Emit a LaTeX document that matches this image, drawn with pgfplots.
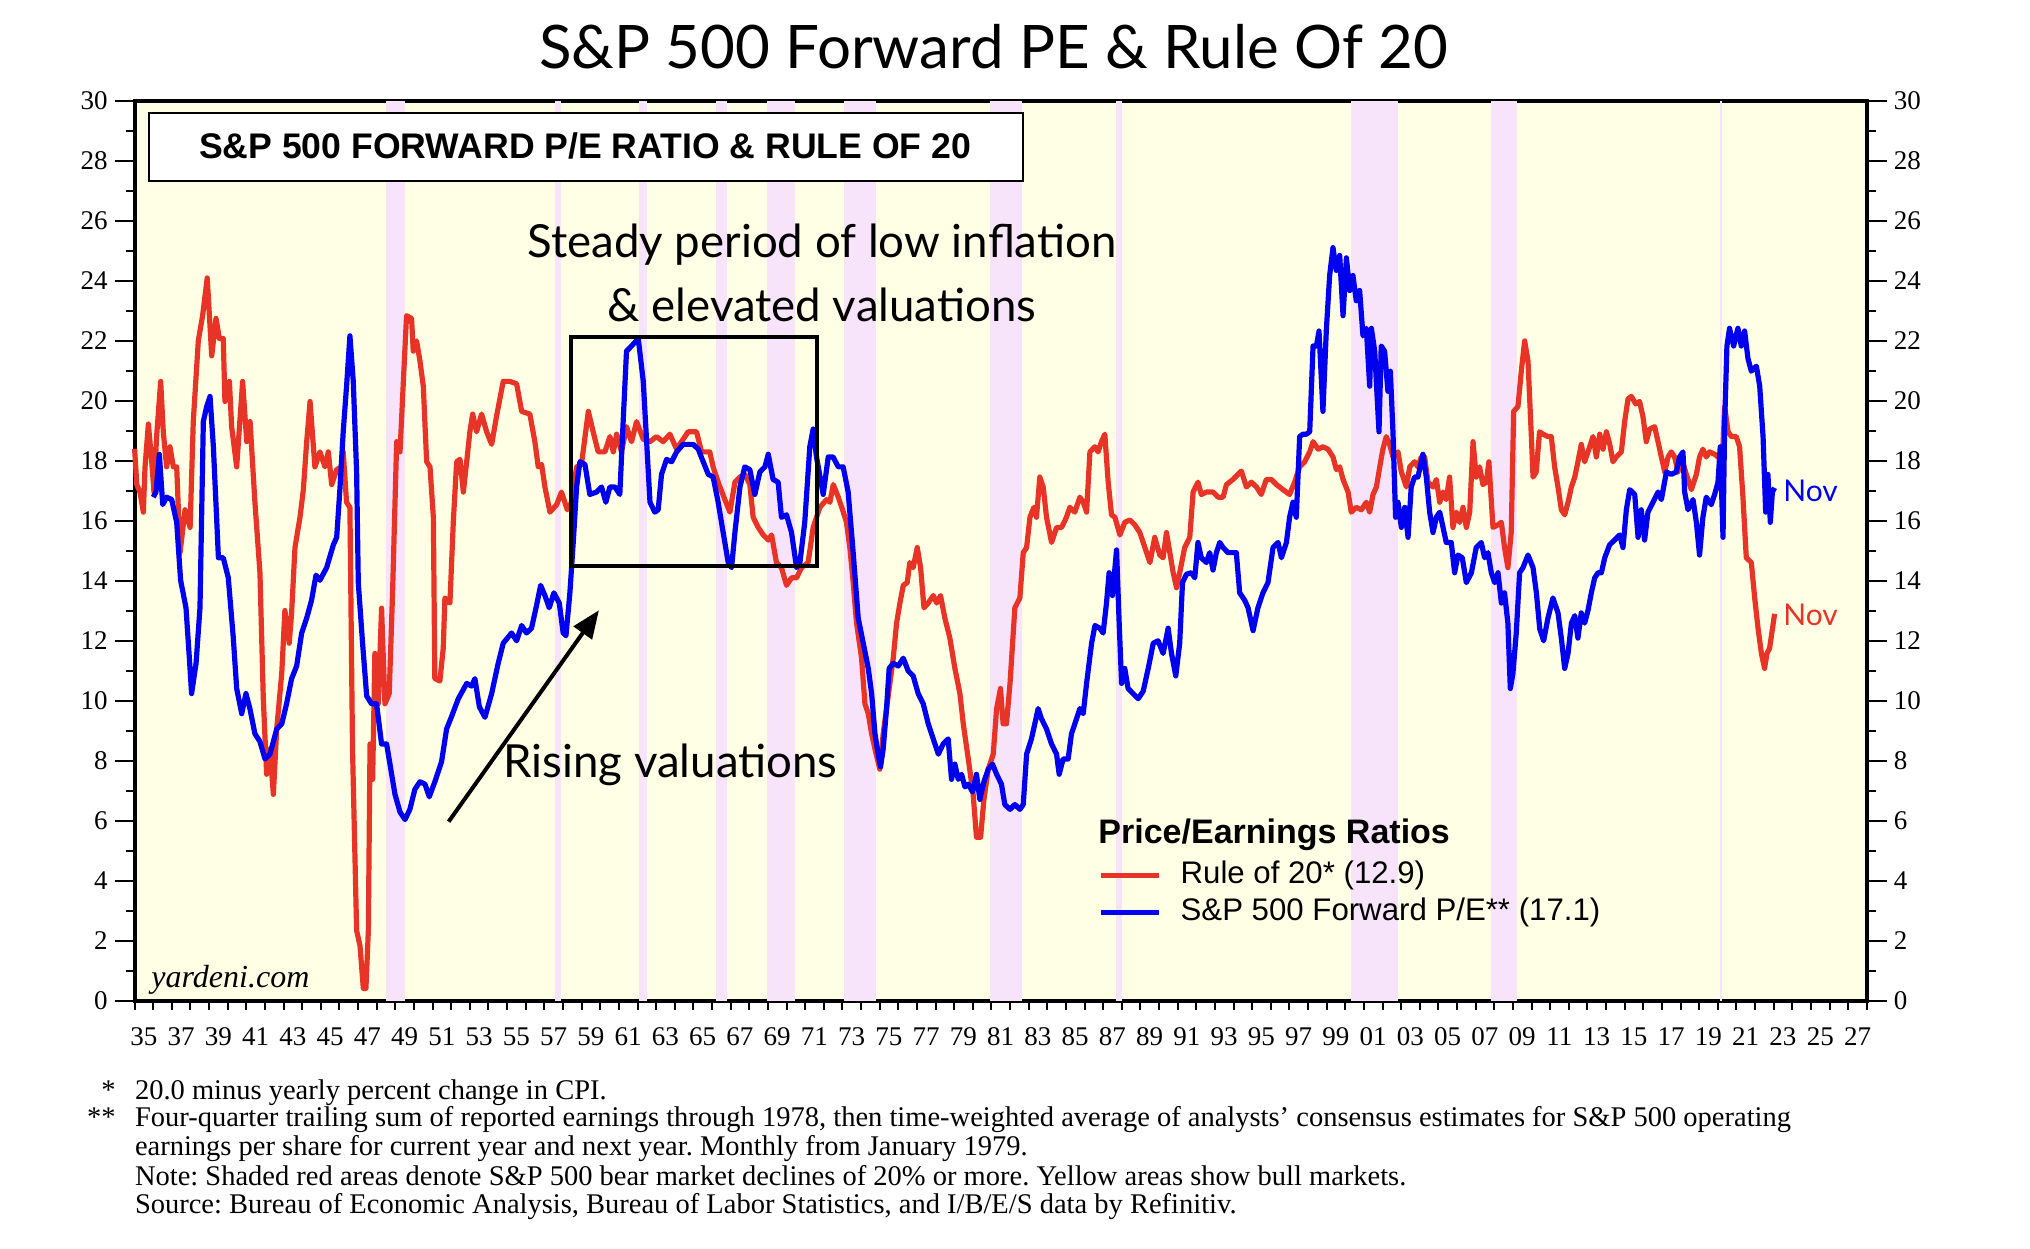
\documentclass[border=0pt]{standalone}
\usepackage{fontspec}
\setmainfont{Liberation Serif}
\newfontfamily\lato{Lato}
\newfontfamily\arial{Liberation Sans}
\usepackage{pgfplots}
\usepackage{pgfplotstable}
\pgfplotsset{compat=1.18}
\usetikzlibrary{arrows.meta}
\definecolor{ivory}{RGB}{255,255,230}
\definecolor{bearpink}{RGB}{248,228,250}
\definecolor{rred}{RGB}{232,52,38}
\definecolor{pblue}{RGB}{0,0,240}
\frenchspacing

\pgfplotstableread{
x y
1935.00 18.4
1935.12 17.2
1935.29 16.96
1935.47 16.29
1935.56 17.8
1935.74 19.23
1935.92 17.97
1936.04 16.96
1936.18 18.8
1936.40 20.65
1936.54 18.97
1936.72 17.80
1936.90 18.47
1937.08 17.80
1937.26 17.80
1937.44 14.94
1937.71 16.37
1937.98 15.78
1938.15 19.31
1938.42 22.0
1938.65 22.84
1938.90 24.1
1939.14 21.5
1939.37 22.75
1939.55 22.08
1939.76 22.08
1939.85 19.98
1940.09 20.65
1940.21 19.14
1940.48 17.8
1940.80 20.65
1941.02 18.64
1941.20 19.31
1941.46 16.62
1941.73 14.27
1941.91 10.07
1942.09 7.55
1942.27 8.39
1942.45 6.88
1942.63 9.06
1942.90 10.91
1943.07 13.01
1943.30 11.92
1943.43 12.93
1943.61 15.11
1943.88 16.12
1944.06 17.04
1944.24 18.64
1944.42 19.98
1944.68 17.8
1944.95 18.3
1945.22 17.8
1945.40 18.3
1945.58 17.21
1945.85 17.71
1946.12 17.8
1946.20 18.3
1946.38 16.62
1946.56 16.45
1946.70 8.39
1946.92 2.34
1947.10 1.84
1947.28 0.41
1947.42 0.41
1947.55 2.34
1947.64 8.56
1947.78 7.38
1947.90 11.58
1948.08 9.9
1948.26 13.09
1948.44 9.9
1948.67 10.24
1948.85 13.6
1949.07 18.64
1949.25 18.3
1949.43 20.65
1949.60 22.84
1949.87 22.75
1949.96 21.66
1950.14 22.0
1950.32 21.33
1950.50 20.49
1950.68 17.97
1950.86 17.8
1951.04 16.12
1951.12 10.74
1951.39 10.66
1951.57 11.75
1951.66 13.43
1951.93 13.26
1952.11 15.95
1952.29 17.97
1952.47 18.05
1952.65 16.96
1952.83 17.97
1953.00 18.97
1953.15 19.56
1953.36 18.97
1953.63 19.56
1953.90 18.97
1954.17 18.55
1954.43 19.48
1954.79 20.65
1955.15 20.65
1955.51 20.57
1955.78 19.65
1956.22 19.56
1956.49 18.64
1956.67 17.8
1956.85 17.88
1957.03 17.13
1957.30 16.29
1957.66 16.54
1957.92 16.96
1958.23 16.37
1958.46 16.62
1958.73 17.8
1958.99 17.88
1959.36 19.65
1959.62 18.97
1959.89 18.3
1960.25 18.3
1960.52 18.81
1960.70 18.3
1960.88 18.89
1961.14 18.3
1961.41 19.14
1961.68 18.64
1961.95 19.31
1962.31 18.72
1962.67 18.64
1963.02 18.81
1963.38 18.64
1963.74 18.89
1964.10 18.39
1964.45 18.72
1964.72 18.97
1965.17 18.97
1965.44 18.3
1965.88 18.3
1966.06 17.8
1966.33 17.29
1966.69 16.71
1966.96 16.29
1967.23 17.29
1967.50 17.46
1967.76 17.55
1968.03 17.21
1968.21 16.12
1968.48 15.78
1968.75 15.53
1969.02 15.36
1969.20 15.53
1969.46 14.61
1969.73 14.44
1970.00 13.85
1970.27 14.1
1970.54 14.1
1970.81 14.44
1971.16 14.61
1971.43 15.78
1971.79 16.45
1972.15 16.71
1972.33 16.62
1972.51 17.21
1972.78 16.79
1973.05 16.29
1973.22 15.95
1973.40 15.11
1973.58 13.94
1973.76 12.59
1974.03 11.42
1974.21 9.9
1974.39 9.57
1974.57 8.9
1974.75 8.39
1975.01 7.72
1975.19 8.9
1975.37 9.74
1975.55 10.58
1975.73 11.42
1975.91 12.59
1976.09 13.26
1976.27 13.85
1976.48 13.94
1976.62 14.61
1976.80 14.44
1977.02 15.11
1977.20 14.44
1977.38 13.1
1977.61 13.26
1977.88 13.51
1978.06 13.26
1978.27 13.51
1978.50 12.76
1978.77 12.09
1979.04 11.08
1979.31 10.24
1979.49 9.23
1979.76 8.06
1980.02 6.88
1980.20 5.45
1980.42 5.45
1980.60 6.71
1980.83 7.72
1981.10 8.22
1981.28 9.74
1981.49 10.41
1981.63 9.23
1981.81 9.23
1982.00 10.58
1982.26 13.1
1982.53 13.43
1982.71 14.94
1982.89 15.11
1983.07 16.12
1983.28 16.45
1983.42 16.12
1983.60 17.46
1983.78 17.13
1983.96 16.12
1984.23 15.28
1984.50 15.78
1984.77 15.78
1985.03 16.12
1985.21 16.45
1985.48 16.29
1985.75 16.79
1985.93 16.62
1986.11 16.29
1986.29 18.3
1986.55 18.47
1986.73 18.3
1986.91 18.64
1987.09 18.89
1987.27 17.29
1987.45 16.2
1987.63 16.12
1987.90 15.53
1988.16 15.95
1988.43 16.03
1988.70 15.87
1988.97 15.61
1989.24 15.11
1989.51 14.61
1989.77 15.45
1990.04 14.86
1990.22 14.77
1990.40 15.61
1990.58 14.94
1990.76 14.27
1990.94 13.77
1991.11 14.27
1991.38 15.11
1991.65 15.45
1991.83 16.96
1992.09 17.29
1992.27 16.88
1992.54 16.96
1992.90 16.96
1993.17 16.79
1993.44 16.79
1993.62 17.21
1993.97 17.38
1994.24 17.55
1994.42 17.66
1994.69 17.13
1994.96 17.29
1995.23 17.13
1995.49 16.88
1995.76 17.38
1996.03 17.38
1996.30 17.21
1996.66 17.04
1997.01 16.88
1997.28 17.29
1997.55 17.8
1997.82 17.97
1998.09 18.3
1998.27 18.64
1998.54 18.39
1998.80 18.47
1999.07 18.39
1999.34 18.13
1999.52 17.71
1999.70 17.8
1999.88 17.38
2000.15 16.96
2000.32 16.29
2000.59 16.45
2000.86 16.37
2001.13 16.62
2001.31 16.29
2001.49 16.88
2001.67 17.13
2001.85 17.8
2002.02 18.39
2002.20 18.81
2002.38 18.55
2002.56 18.13
2002.83 18.3
2003.01 17.63
2003.28 17.13
2003.46 17.8
2003.72 17.97
2003.90 17.8
2004.08 18.13
2004.26 18.13
2004.44 17.29
2004.71 17.13
2004.89 17.38
2005.07 16.62
2005.25 16.96
2005.42 16.71
2005.60 17.46
2005.78 15.78
2005.96 16.29
2006.14 15.95
2006.32 16.45
2006.50 15.78
2006.68 16.29
2006.86 18.64
2007.03 17.46
2007.21 17.8
2007.39 17.21
2007.57 17.29
2007.71 17.97
2007.93 15.78
2008.20 15.87
2008.38 15.95
2008.55 15.11
2008.73 14.44
2008.91 15.61
2009.04 19.65
2009.27 19.81
2009.45 20.99
2009.63 22.0
2009.81 21.33
2009.99 18.81
2010.08 17.46
2010.25 17.63
2010.43 18.97
2010.62 18.89
2010.88 18.81
2011.06 18.81
2011.24 17.8
2011.42 17.13
2011.60 16.37
2011.78 16.2
2011.96 16.62
2012.14 17.13
2012.32 17.46
2012.49 17.97
2012.67 18.55
2012.85 17.97
2013.03 18.3
2013.30 18.81
2013.48 18.13
2013.66 18.89
2013.84 18.39
2014.02 18.97
2014.20 18.55
2014.37 17.97
2014.55 18.13
2014.82 18.3
2015.00 19.31
2015.18 20.07
2015.36 20.15
2015.59 19.9
2015.80 19.98
2015.98 19.48
2016.16 18.64
2016.34 19.06
2016.61 19.14
2016.79 18.64
2016.97 18.13
2017.15 17.63
2017.33 18.13
2017.50 18.3
2017.68 18.13
2017.86 17.63
2018.04 18.13
2018.31 17.55
2018.58 17.04
2018.85 17.55
2019.02 18.13
2019.20 18.39
2019.38 18.13
2019.56 18.3
2019.83 18.22
2020.01 18.13
2020.24 17.97
2020.37 19.81
2020.55 18.97
2020.73 18.81
2020.99 18.81
2021.17 18.47
2021.35 16.79
2021.53 14.77
2021.80 14.61
2021.98 13.43
2022.16 12.42
2022.34 11.58
2022.51 11.08
2022.64 11.58
2022.78 11.75
2023.05 12.9
}\ruletwenty

\pgfplotstableread{
x y
1936.00 16.79
1936.15 16.96
1936.33 18.22
1936.51 16.54
1936.72 16.79
1936.99 16.71
1937.26 15.95
1937.47 14.02
1937.76 13.1
1937.94 11.42
1938.06 10.24
1938.30 11.25
1938.51 13.1
1938.69 19.31
1938.87 19.81
1939.05 20.15
1939.23 18.47
1939.50 14.77
1939.76 14.77
1940.03 14.1
1940.30 12.09
1940.48 10.41
1940.75 9.57
1940.98 10.24
1941.19 9.74
1941.46 8.9
1941.73 8.64
1942.00 8.06
1942.27 8.22
1942.63 9.06
1942.90 9.23
1943.16 9.9
1943.43 10.74
1943.70 11.16
1943.97 12.26
1944.24 12.76
1944.50 13.35
1944.74 14.19
1944.95 14.02
1945.31 14.44
1945.67 15.2
1945.85 15.45
1946.03 17.13
1946.20 18.97
1946.38 20.49
1946.56 22.17
1946.74 20.65
1946.92 17.63
1947.01 13.94
1947.24 11.92
1947.46 10.16
1947.72 9.9
1947.99 9.9
1948.26 8.56
1948.53 8.56
1948.71 7.89
1948.98 6.88
1949.25 6.29
1949.52 6.04
1949.78 6.38
1950.05 7.05
1950.32 7.3
1950.59 7.22
1950.82 6.8
1951.12 7.3
1951.48 7.97
1951.75 9.06
1952.02 9.48
1952.38 10.07
1952.83 10.58
1953.09 10.49
1953.27 10.74
1953.51 9.8
1953.81 9.45
1954.17 10.24
1954.52 11.25
1954.79 11.92
1955.24 12.26
1955.51 12.0
1955.78 12.51
1956.04 12.26
1956.31 12.42
1956.58 13.18
1956.80 13.85
1957.03 13.51
1957.26 13.1
1957.51 13.6
1957.80 13.26
1958.01 12.26
1958.16 12.17
1958.37 13.6
1958.55 15.28
1958.73 17.13
1958.91 17.97
1959.18 17.88
1959.44 16.88
1959.80 16.96
1960.07 17.13
1960.30 16.62
1960.52 17.13
1960.79 17.13
1961.05 16.88
1961.23 19.31
1961.41 21.66
1961.68 21.83
1962.04 22.08
1962.31 20.65
1962.49 18.64
1962.67 16.62
1962.93 16.29
1963.11 16.37
1963.29 17.55
1963.56 18.05
1963.83 17.97
1964.10 18.3
1964.45 18.55
1964.99 18.55
1965.26 18.39
1965.53 17.97
1965.80 17.55
1966.06 17.46
1966.33 16.62
1966.60 15.61
1966.87 14.61
1967.05 14.44
1967.23 15.61
1967.50 17.13
1967.76 17.8
1968.03 17.71
1968.30 16.88
1968.57 17.63
1968.84 17.8
1969.02 18.22
1969.28 17.38
1969.55 17.29
1969.73 16.12
1970.00 16.2
1970.27 15.61
1970.54 14.44
1970.72 14.61
1970.98 15.95
1971.25 18.47
1971.43 19.06
1971.61 18.13
1971.97 16.88
1972.24 18.13
1972.50 18.13
1972.78 17.8
1973.04 17.8
1973.31 16.96
1973.58 14.94
1973.85 12.76
1974.12 11.92
1974.39 11.08
1974.57 10.24
1974.75 8.9
1974.92 8.22
1975.05 7.8
1975.19 8.39
1975.37 9.74
1975.51 11.08
1975.73 11.25
1976.00 11.16
1976.27 11.42
1976.53 11.0
1976.80 10.83
1977.07 10.24
1977.34 9.9
1977.61 9.23
1977.88 8.73
1978.15 8.22
1978.41 8.56
1978.68 8.73
1978.86 7.38
1979.04 7.89
1979.22 7.38
1979.40 7.55
1979.58 7.13
1979.76 7.22
1979.99 6.96
1980.20 7.55
1980.38 6.71
1980.60 7.3
1980.83 7.72
1981.06 7.89
1981.28 7.55
1981.54 7.22
1981.72 6.54
1982.00 6.38
1982.26 6.54
1982.53 6.38
1982.71 6.54
1982.89 8.22
1983.15 8.73
1983.33 9.23
1983.51 9.74
1983.69 9.4
1983.96 9.06
1984.23 8.56
1984.50 8.22
1984.64 7.55
1984.85 8.06
1985.12 8.06
1985.30 8.9
1985.57 9.4
1985.75 9.74
1985.93 9.57
1986.11 10.58
1986.38 11.92
1986.56 12.51
1986.82 12.42
1987.00 12.26
1987.18 13.26
1987.32 14.27
1987.50 13.51
1987.72 15.03
1987.86 12.59
1987.99 10.58
1988.16 11.08
1988.34 10.41
1988.61 10.24
1988.88 10.07
1989.15 10.32
1989.42 11.08
1989.69 11.92
1989.95 12.0
1990.22 11.58
1990.49 12.42
1990.67 11.58
1990.90 10.83
1991.11 11.92
1991.26 13.94
1991.47 14.22
1991.74 14.27
1991.92 14.1
1992.09 15.28
1992.27 14.77
1992.54 14.61
1992.72 14.94
1992.90 14.36
1993.08 14.94
1993.26 15.28
1993.44 15.11
1993.70 14.94
1993.97 14.94
1994.15 14.94
1994.33 13.6
1994.60 13.35
1994.78 13.1
1995.05 12.34
1995.31 13.1
1995.58 13.6
1995.85 13.94
1996.12 15.11
1996.39 15.28
1996.57 14.77
1996.84 15.28
1997.01 16.12
1997.19 16.62
1997.37 16.12
1997.55 18.81
1997.73 18.89
1997.91 18.89
1998.09 18.97
1998.27 21.83
1998.45 21.83
1998.59 22.33
1998.80 19.65
1998.98 22.33
1999.16 24.18
1999.34 25.11
1999.52 24.35
1999.70 24.85
1999.88 22.84
2000.06 24.77
2000.24 23.68
2000.41 24.18
2000.59 23.34
2000.77 23.68
2000.95 22.17
2001.13 22.42
2001.31 20.49
2001.40 22.42
2001.58 21.66
2001.81 18.97
2001.93 21.83
2002.11 21.66
2002.29 20.32
2002.42 20.99
2002.56 18.97
2002.70 16.12
2002.83 16.62
2003.01 15.78
2003.19 16.45
2003.37 15.45
2003.54 17.13
2003.72 17.46
2003.90 17.46
2004.17 18.22
2004.35 17.46
2004.53 16.29
2004.71 15.61
2004.89 16.12
2005.07 16.29
2005.25 15.78
2005.42 15.28
2005.69 15.28
2005.87 14.27
2006.05 14.86
2006.28 14.77
2006.50 13.94
2006.77 14.27
2007.03 15.11
2007.30 15.28
2007.48 14.77
2007.66 14.94
2007.84 14.27
2008.02 13.94
2008.20 14.27
2008.38 13.26
2008.55 13.6
2008.73 12.59
2008.86 10.41
2009.00 10.91
2009.18 12.26
2009.36 14.27
2009.54 14.44
2009.81 14.86
2010.08 14.44
2010.26 13.6
2010.44 12.4
2010.65 12.0
2010.88 12.76
2011.15 13.43
2011.42 12.93
2011.60 12.09
2011.78 11.08
2011.96 11.58
2012.14 12.59
2012.32 12.84
2012.49 12.09
2012.67 12.93
2012.85 12.59
2013.03 13.01
2013.21 13.6
2013.39 14.1
2013.57 14.27
2013.75 14.27
2013.93 14.77
2014.19 15.2
2014.46 15.36
2014.73 15.53
2014.91 15.11
2015.09 16.37
2015.27 17.04
2015.54 16.88
2015.72 15.45
2015.89 16.37
2016.07 15.36
2016.25 16.29
2016.52 16.62
2016.79 16.96
2016.97 16.71
2017.24 17.63
2017.50 17.55
2017.77 17.63
2017.95 18.13
2018.13 18.3
2018.22 16.96
2018.40 16.37
2018.67 16.71
2018.85 15.95
2019.02 14.86
2019.20 16.12
2019.38 16.79
2019.65 16.54
2019.83 16.88
2020.01 17.29
2020.13 18.47
2020.28 15.45
2020.37 19.31
2020.49 21.83
2020.63 22.42
2020.85 21.83
2021.08 22.42
2021.26 21.83
2021.44 22.33
2021.62 21.41
2021.80 20.99
2022.07 21.16
2022.25 20.49
2022.43 18.81
2022.57 16.29
2022.69 17.55
2022.82 15.95
2022.93 16.96
2023.05 17.1
}\forwardpe

\begin{document}
\begin{tikzpicture}[x=1pt,y=1pt]
\useasboundingbox (0,0) rectangle (1015,624);
\fill[white] (0,0) rectangle (1015,624);

% title
\node[font=\lato\fontsize{30}{36}\selectfont, inner sep=0pt] at (496.8,600.5) {S\&P 500 Forward PE \& Rule Of 20};

\begin{axis}[
  at={(67.3pt,123.65pt)}, anchor=south west,
  scale only axis, width=866.1pt, height=449.85pt,
  xmin=1935, xmax=2028, ymin=0, ymax=30,
  clip=false,
  axis background/.style={fill=ivory},
  axis line style={line width=2pt},
  tick align=outside,
  xtick pos=left, ytick pos=left,
  xtick={1935.5,1937.5,...,2027.5},
  xticklabels={35,37,39,41,43,45,47,49,51,53,55,57,59,61,63,65,67,69,71,73,75,77,79,81,83,85,87,89,91,93,95,97,99,01,03,05,07,09,11,13,15,17,19,21,23,25,27},
  minor xtick={1935,1936,...,2028},
  major x tick style={draw=none},
  ytick={0,2,...,30},
  minor ytick={1,3,...,29},
  major tick length=10pt,
  minor tick length=4.5pt,
  tick style={line width=1pt, black},
  /pgf/number format/assume math mode=true,
  ticklabel style={font=\fontsize{13.5}{14}\selectfont},
  legend cell align=left,
  legend style={draw=none, fill=none, at={(0.5562,0.1183)}, anchor=west, inner sep=0pt,
    row sep=4.5pt, column sep=9.5pt,
    nodes={inner sep=0pt, text height=11pt, text depth=3pt, font=\arial\fontsize{15.6}{17}\selectfont}},
  legend image code/.code={\draw[#1] (0pt,0pt) -- (29pt,0pt);},
]
% bear market shading
\addplot[fill=bearpink, draw=none, forget plot] coordinates {(1948.50,30) (1949.50,30)} \closedcycle;
\addplot[fill=bearpink, draw=none, forget plot] coordinates {(1957.57,30) (1957.87,30)} \closedcycle;
\addplot[fill=bearpink, draw=none, forget plot] coordinates {(1962.09,30) (1962.49,30)} \closedcycle;
\addplot[fill=bearpink, draw=none, forget plot] coordinates {(1966.21,30) (1966.82,30)} \closedcycle;
\addplot[fill=bearpink, draw=none, forget plot] coordinates {(1968.96,30) (1970.45,30)} \closedcycle;
\addplot[fill=bearpink, draw=none, forget plot] coordinates {(1973.08,30) (1974.83,30)} \closedcycle;
\addplot[fill=bearpink, draw=none, forget plot] coordinates {(1980.95,30) (1982.65,30)} \closedcycle;
\addplot[fill=bearpink, draw=none, forget plot] coordinates {(1987.68,30) (1987.99,30)} \closedcycle;
\addplot[fill=bearpink, draw=none, forget plot] coordinates {(2000.30,30) (2002.83,30)} \closedcycle;
\addplot[fill=bearpink, draw=none, forget plot] coordinates {(2007.84,30) (2009.22,30)} \closedcycle;
\addplot[fill=bearpink, draw=none, forget plot] coordinates {(2020.13,30) (2020.25,30)} \closedcycle;

\addplot[rred, line width=2.6pt, line join=round] table[x=x,y=y] {\ruletwenty};
\addlegendentry{Rule of 20* (12.9)}
\addplot[pblue, line width=2.6pt, line join=round] table[x=x,y=y] {\forwardpe};
\addlegendentry{S\&P 500 Forward P/E** (17.1)}

% inner title box
\draw[line width=1pt, fill=white] (axis description cs:0.0083,0.9111) rectangle (axis description cs:0.5129,0.9867);
\node[font=\arial\bfseries\fontsize{17.8}{20}\selectfont, inner sep=0pt] at (axis description cs:0.2601,0.9498) {S\&P 500 FORWARD P/E RATIO \& RULE OF 20};

% annotations
\draw[line width=2pt] (axis cs:1958.42,14.5) rectangle (axis cs:1971.63,22.13);
\draw[line width=2pt, -{Triangle[length=14pt,width=11pt]}] (axis cs:1951.86,5.97) -- (axis cs:1959.93,13.02);
\node[font=\lato\fontsize{22.8}{26}\selectfont, inner sep=0pt] at (axis description cs:0.3968,0.840) {Steady period of low inflation};
\node[font=\lato\fontsize{22.8}{26}\selectfont, inner sep=0pt] at (axis description cs:0.3968,0.7732) {\& elevated valuations};
\node[font=\lato\fontsize{22.8}{26}\selectfont, inner sep=0pt] at (axis description cs:0.3094,0.2620) {Rising valuations};

\node[font=\lato\fontsize{15}{18}\selectfont, text=pblue, anchor=west, inner sep=0pt] at (axis description cs:0.9516,0.5665) {Nov};
\node[font=\lato\fontsize{15}{18}\selectfont, text=rred, anchor=west, inner sep=0pt] at (axis description cs:0.9516,0.4287) {Nov};

\node[font=\itshape\fontsize{16}{18}\selectfont, anchor=west, inner sep=0pt] at (axis description cs:0.0095,0.023) {yardeni.com};

\node[font=\arial\bfseries\fontsize{17}{20}\selectfont, anchor=west, inner sep=0pt] at (axis description cs:0.5562,0.1842) {Price/Earnings Ratios};
\end{axis}

\begin{axis}[
  at={(67.3pt,123.65pt)}, anchor=south west,
  scale only axis, width=866.1pt, height=449.85pt,
  xmin=1935, xmax=2028, ymin=0, ymax=30,
  axis x line=none, axis y line*=right,
  axis line style={-, line width=2pt},
  tick align=outside,
  ytick={0,2,...,30},
  minor ytick={1,3,...,29},
  major tick length=10pt,
  minor tick length=4.5pt,
  tick style={line width=1pt, black},
  /pgf/number format/assume math mode=true,
  ticklabel style={font=\fontsize{13.5}{14}\selectfont},
]
\end{axis}

% footnotes
\begin{scope}[every node/.style={inner sep=0pt, font=\fontsize{14.25}{15}\selectfont}]
\node[anchor=base east] at (58,74) {*};
\node[anchor=base west] at (67.3,74) {20.0 minus yearly percent change in CPI.};
\node[anchor=base east] at (58,60.5) {**};
\node[anchor=base west] at (67.3,60.5) {Four-quarter trailing sum of reported earnings through 1978, then time-weighted average of analysts’ consensus estimates for S\&P 500 operating};
\node[anchor=base west] at (67.3,46) {earnings per share for current year and next year. Monthly from January 1979.};
\node[anchor=base west] at (67.3,31) {Note: Shaded red areas denote S\&P 500 bear market declines of 20\% or more. Yellow areas show bull markets.};
\node[anchor=base west] at (67.3,17) {Source: Bureau of Economic Analysis, Bureau of Labor Statistics, and I/B/E/S data by Refinitiv.};
\end{scope}
\end{tikzpicture}
\end{document}
